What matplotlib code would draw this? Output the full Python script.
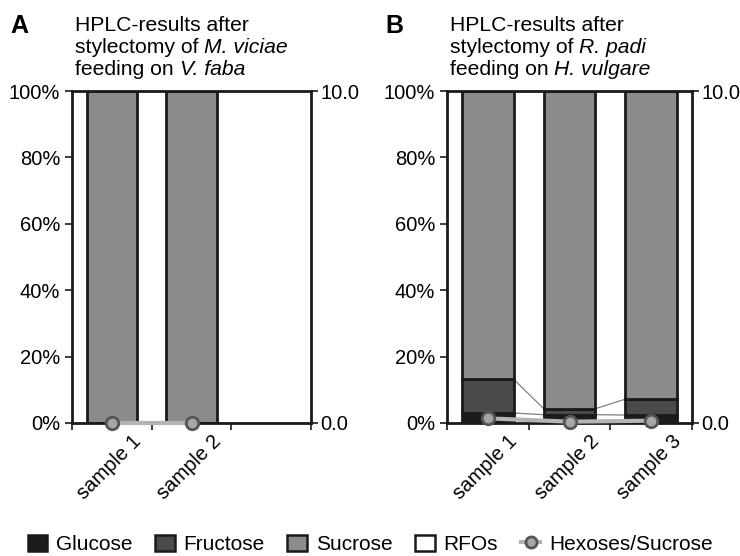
import numpy as np
import matplotlib.pyplot as plt
from matplotlib.patches import Patch
from matplotlib.lines import Line2D
from matplotlib.transforms import ScaledTranslation

plt.rcParams['font.family'] = ['Liberation Sans', 'DejaVu Sans']

# percent composition of the phloem sap per sample, plus hexoses/sucrose ratio
samples_a = ['sample 1', 'sample 2']
glucose_a = [0.0, 0.0]
fructose_a = [0.0, 0.0]
sucrose_a = [100.0, 100.0]
rfo_a = [0.0, 0.0]
ratio_a = [0.0, 0.0]

samples_b = ['sample 1', 'sample 2', 'sample 3']
glucose_b = [3.0, 2.5, 2.4]
fructose_b = [10.2, 1.8, 4.8]
sucrose_b = [86.8, 95.7, 92.8]
rfo_b = [0.0, 0.0, 0.0]
ratio_b = [0.14, 0.04, 0.07]

sugars = ['Glucose', 'Fructose', 'Sucrose', 'RFOs']
colors = ['#1c1c1c', '#4a4a4a', '#8b8b8b', 'white']
edge = '#1a1a1a'
bw = 0.63

fig = plt.figure(figsize=(7.4, 5.56), dpi=100)
ax_a = fig.add_axes([72 / 740, 133 / 556, 239 / 740, 332 / 556])
ax_b = fig.add_axes([447 / 740, 133 / 556, 245 / 740, 332 / 556])


def panel(ax, samples, series, ratio, letter, title):
    x = np.arange(len(samples))
    bottom = np.zeros(len(samples))
    tops = []
    for vals, c in zip(series, colors):
        vals = np.array(vals)
        ax.bar(x, vals, bw, bottom=bottom, color=c, edgecolor=edge,
               linewidth=2, zorder=3)
        bottom = bottom + vals
        tops.append(bottom.copy())
    # series lines joining segment tops of neighbouring bars
    for t in tops:
        for i in range(len(x) - 1):
            ax.plot([x[i] + bw / 2, x[i + 1] - bw / 2], [t[i], t[i + 1]],
                    color='#808080', lw=0.9, zorder=2)
    ax.set_xlim(-0.5, 2.5)
    ax.set_ylim(0, 100)
    ax.set_yticks(np.arange(0, 101, 20))
    ax.set_yticklabels([f'{v}%' for v in range(0, 101, 20)])
    ax.set_xticks([-0.5, 0.5, 1.5, 2.5])
    ax.set_xticklabels([])
    ax.set_xticks(x, minor=True)
    ax.set_xticklabels(samples, minor=True, rotation=45, ha='right',
                       va='top', rotation_mode='anchor')
    ax.tick_params(axis='x', which='minor', length=0, pad=6, labelsize=14.5)
    ax.tick_params(axis='both', which='major', direction='out', length=5,
                   width=1.2, color=edge, labelsize=14.5)
    off = ScaledTranslation(0.20, 0, fig.dpi_scale_trans)
    for lab in ax.get_xticklabels(minor=True):
        lab.set_transform(lab.get_transform() + off)
    for s in ax.spines.values():
        s.set_linewidth(2)
        s.set_color(edge)
        s.set_zorder(5)

    ax2 = ax.twinx()
    ax2.set_ylim(0, 10)
    ax2.set_yticks([0, 10])
    ax2.set_yticklabels(['0.0', '10.0'])
    ax2.tick_params(direction='out', length=5, width=1.2, color=edge,
                    labelsize=14.5, pad=2)
    for s in ax2.spines.values():
        s.set_visible(False)
    ax2.plot(x, ratio, color='#b4b4b4', lw=3, marker='o', ms=9,
             mfc='#a6a6a6', mec='#555555', mew=2, zorder=6, clip_on=False)

    pos = ax.get_position()
    fig.text(pos.x0 - 62 / 740, 1 - 33 / 556, letter, fontsize=18,
             fontweight='bold', ha='left', va='baseline')

    # three-line heading, species names in italics
    y = 1 - 35 / 556
    for parts in title:
        prev = None
        for txt, it in parts:
            style = 'italic' if it else 'normal'
            if prev is None:
                prev = fig.text(pos.x0 + 3 / 740, y, txt, fontsize=15.2,
                                style=style, ha='left', va='bottom')
            else:
                prev = ax.annotate(txt, xy=(1, 0), xycoords=prev,
                                   fontsize=15.2, style=style, ha='left',
                                   va='bottom', annotation_clip=False)
        y -= 22 / 556


panel(ax_a, samples_a, [glucose_a, fructose_a, sucrose_a, rfo_a], ratio_a,
      'A', [[('HPLC-results after', False)],
            [('stylectomy of ', False), ('M. viciae', True)],
            [('feeding on ', False), ('V. faba', True)]])
panel(ax_b, samples_b, [glucose_b, fructose_b, sucrose_b, rfo_b], ratio_b,
      'B', [[('HPLC-results after', False)],
            [('stylectomy of ', False), ('R. padi', True)],
            [('feeding on ', False), ('H. vulgare', True)]])

handles = [Patch(facecolor=c, edgecolor=edge, linewidth=1.8) for c in colors]
handles.append(Line2D([], [], color='#b4b4b4', lw=3, marker='o', ms=8,
                      mfc='#a6a6a6', mec='#555555', mew=2))
fig.legend(handles, sugars + ['Hexoses/Sucrose'], loc='lower center',
           bbox_to_anchor=(0.5, -0.03), ncol=5, frameon=False, fontsize=15,
           handlelength=0.95, handleheight=0.8, handletextpad=0.4,
           columnspacing=1.1)

fig.savefig('out.png', dpi=100)
